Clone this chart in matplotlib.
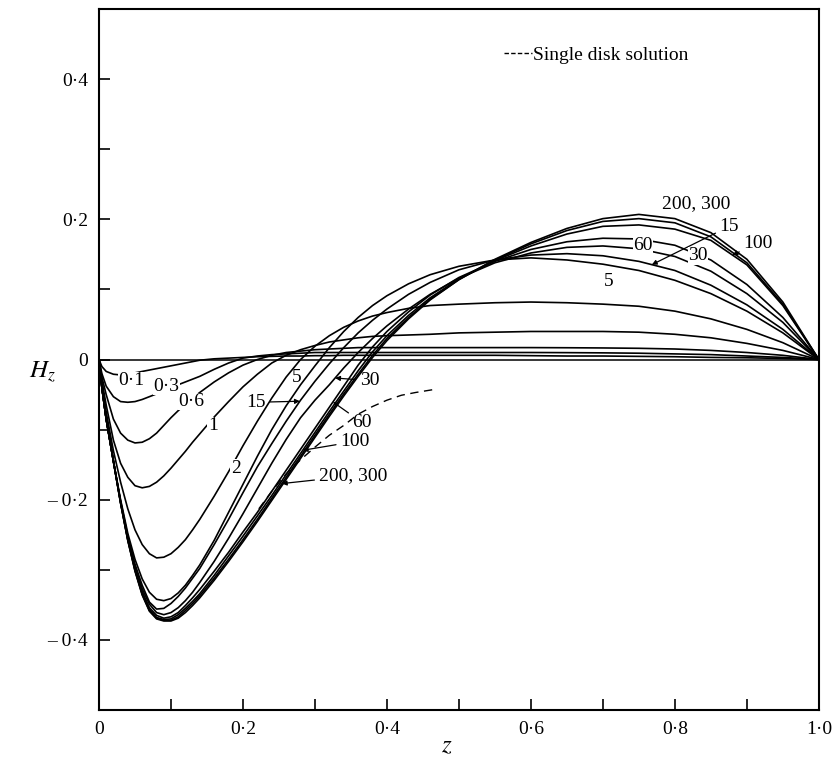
import numpy as np
import matplotlib
matplotlib.use("Agg")
import matplotlib.pyplot as plt
from matplotlib.lines import Line2D

plt.rcParams['font.family'] = ['Liberation Serif', 'DejaVu Serif']
plt.rcParams['mathtext.fontset'] = 'stix'

# z positions shared by all curves
z = [0, 0.004, 0.01, 0.02, 0.03, 0.04, 0.05, 0.06, 0.07, 0.08, 0.09, 0.10,
     0.11, 0.12, 0.13, 0.14, 0.16, 0.18, 0.20, 0.22, 0.24, 0.26, 0.28, 0.30,
     0.32, 0.34, 0.36, 0.38, 0.40, 0.43, 0.46, 0.50, 0.55, 0.60, 0.65, 0.70,
     0.75, 0.80, 0.85, 0.90, 0.95, 1.0]

h_01 = [0, -0.010, -0.017, -0.021, -0.022, -0.021, -0.019, -0.017, -0.015, -0.013, -0.011, -0.009,
        -0.007, -0.005, -0.003, -0.001, 0.001, 0.002, 0.003, 0.004, 0.0045, 0.005, 0.005, 0.0055,
        0.0055, 0.006, 0.006, 0.006, 0.006, 0.006, 0.006, 0.006, 0.006, 0.0055, 0.005, 0.005,
        0.0045, 0.004, 0.003, 0.0025, 0.0015, 0]
h_03 = [0, -0.020, -0.038, -0.053, -0.060, -0.061, -0.060, -0.057, -0.053, -0.049, -0.045, -0.040,
        -0.036, -0.032, -0.028, -0.024, -0.014, -0.005, 0.002, 0.005, 0.007, 0.008, 0.009, 0.010,
        0.010, 0.010, 0.010, 0.010, 0.010, 0.010, 0.010, 0.010, 0.010, 0.010, 0.0098, 0.0095,
        0.009, 0.008, 0.007, 0.005, 0.003, 0]
h_06 = [0, -0.025, -0.050, -0.085, -0.105, -0.115, -0.119, -0.118, -0.113, -0.105, -0.094, -0.083,
        -0.073, -0.064, -0.055, -0.047, -0.032, -0.019, -0.008, 0.000, 0.006, 0.010, 0.012, 0.014,
        0.015, 0.016, 0.017, 0.017, 0.017, 0.017, 0.017, 0.017, 0.017, 0.017, 0.0168, 0.0165,
        0.016, 0.015, 0.013, 0.010, 0.006, 0]
h_1 = [0, -0.030, -0.065, -0.115, -0.148, -0.168, -0.180, -0.183, -0.181, -0.175, -0.166, -0.155,
       -0.143, -0.131, -0.118, -0.106, -0.082, -0.060, -0.039, -0.021, -0.005, 0.006, 0.014, 0.020,
       0.025, 0.028, 0.031, 0.033, 0.034, 0.035, 0.036, 0.038, 0.039, 0.040, 0.040, 0.040,
       0.039, 0.036, 0.031, 0.023, 0.013, 0]
h_2 = [0, -0.035, -0.075, -0.130, -0.175, -0.213, -0.243, -0.264, -0.277, -0.283, -0.282, -0.277,
       -0.268, -0.257, -0.243, -0.228, -0.195, -0.160, -0.123, -0.088, -0.055, -0.025, 0.000, 0.019,
       0.034, 0.046, 0.055, 0.062, 0.067, 0.073, 0.077, 0.079, 0.081, 0.082, 0.081, 0.079,
       0.076, 0.069, 0.058, 0.043, 0.024, 0]
h_5 = [0, -0.040, -0.085, -0.145, -0.200, -0.248, -0.285, -0.313, -0.332, -0.342, -0.344, -0.341,
       -0.333, -0.322, -0.308, -0.293, -0.258, -0.218, -0.178, -0.138, -0.100, -0.066, -0.036, -0.009,
       0.017, 0.040, 0.060, 0.077, 0.091, 0.108, 0.121, 0.133, 0.142, 0.145, 0.142, 0.136,
       0.127, 0.113, 0.094, 0.069, 0.038, 0]
h_15 = [0, -0.040, -0.085, -0.145, -0.202, -0.252, -0.292, -0.322, -0.346, -0.356, -0.355, -0.348,
        -0.338, -0.326, -0.312, -0.298, -0.264, -0.228, -0.190, -0.153, -0.120, -0.088, -0.058, -0.031,
        -0.006, 0.017, 0.038, 0.056, 0.072, 0.093, 0.110, 0.128, 0.142, 0.149, 0.151, 0.148,
        0.140, 0.127, 0.106, 0.078, 0.043, 0]
h_30 = [0, -0.040, -0.085, -0.145, -0.203, -0.254, -0.295, -0.327, -0.349, -0.361, -0.364, -0.361,
        -0.354, -0.344, -0.332, -0.318, -0.288, -0.255, -0.220, -0.184, -0.148, -0.114, -0.083, -0.058,
        -0.036, -0.012, 0.010, 0.030, 0.048, 0.072, 0.093, 0.116, 0.138, 0.152, 0.160, 0.162,
        0.158, 0.147, 0.126, 0.094, 0.053, 0]
h_60 = [0, -0.040, -0.085, -0.145, -0.204, -0.256, -0.298, -0.331, -0.354, -0.365, -0.369, -0.367,
        -0.361, -0.351, -0.340, -0.328, -0.302, -0.275, -0.246, -0.218, -0.188, -0.158, -0.128, -0.098,
        -0.068, -0.038, -0.008, 0.018, 0.040, 0.068, 0.092, 0.117, 0.140, 0.157, 0.168, 0.173,
        0.172, 0.163, 0.142, 0.107, 0.060, 0]
h_100 = [0, -0.040, -0.085, -0.145, -0.204, -0.257, -0.300, -0.334, -0.357, -0.368, -0.371, -0.370,
         -0.364, -0.355, -0.345, -0.334, -0.308, -0.280, -0.252, -0.223, -0.194, -0.164, -0.134, -0.104,
         -0.074, -0.045, -0.016, 0.011, 0.034, 0.063, 0.088, 0.115, 0.141, 0.162, 0.179, 0.190,
         0.192, 0.186, 0.170, 0.135, 0.077, 0]
h_200 = [0, -0.040, -0.085, -0.145, -0.205, -0.258, -0.301, -0.335, -0.358, -0.369, -0.372, -0.372,
         -0.367, -0.358, -0.348, -0.337, -0.312, -0.285, -0.257, -0.228, -0.198, -0.168, -0.138, -0.108,
         -0.078, -0.049, -0.021, 0.006, 0.030, 0.060, 0.086, 0.114, 0.142, 0.165, 0.184, 0.197,
         0.201, 0.195, 0.175, 0.138, 0.079, 0]
h_300 = [0, -0.040, -0.085, -0.145, -0.205, -0.258, -0.302, -0.336, -0.359, -0.370, -0.373, -0.373,
         -0.369, -0.361, -0.351, -0.340, -0.315, -0.288, -0.260, -0.231, -0.201, -0.171, -0.141, -0.111,
         -0.081, -0.052, -0.024, 0.003, 0.027, 0.058, 0.085, 0.114, 0.143, 0.167, 0.187, 0.201,
         0.207, 0.201, 0.181, 0.143, 0.082, 0]

curves = {"0.1": h_01, "0.3": h_03, "0.6": h_06, "1": h_1, "2": h_2, "5": h_5,
          "15": h_15, "30": h_30, "60": h_60, "100": h_100, "200": h_200, "300": h_300}

# single disk solution (dashed)
z_disk = [0.222, 0.24, 0.26, 0.28, 0.30, 0.32, 0.34, 0.36, 0.38, 0.40, 0.42, 0.44, 0.47]
h_disk = [-0.213, -0.188, -0.163, -0.143, -0.125, -0.108, -0.094, -0.078, -0.067, -0.058,
          -0.051, -0.047, -0.042]


def dot(v):
    return v.replace('.', '\u00b7')


def main():
    fig = plt.figure(figsize=(8.39, 7.58), dpi=100)
    ax = fig.add_axes([0.118, 0.0633, 0.858, 0.9248])

    for name, h in curves.items():
        ax.plot(z, h, color="k", lw=1.2, solid_capstyle="round")
    ax.axhline(0, color="k", lw=1.1)
    ax.plot(z_disk, h_disk, color="k", lw=1.0, dashes=(6, 4))

    ax.set_xlim(0, 1.0)
    ax.set_ylim(-0.5, 0.5)
    ax.set_xticks([0, 0.2, 0.4, 0.6, 0.8, 1.0])
    ax.set_xticklabels(["0", "0·2", "0·4", "0·6", "0·8", "1·0"])
    ax.set_xticks([0.1, 0.3, 0.5, 0.7, 0.9], minor=True)
    ax.set_yticks([-0.4, -0.2, 0, 0.2, 0.4])
    ax.set_yticklabels(["\u2013 0·4", "\u2013 0·2", "0", "0·2", "0·4"])
    ax.set_yticks([-0.3, -0.1, 0.1, 0.3], minor=True)
    ax.tick_params(which="both", direction="in", length=8, width=1.2,
                   labelsize=14, pad=8, top=False, right=False)
    for s in ax.spines.values():
        s.set_linewidth(1.5)

    ax.text(-0.079, -0.018, "$H_z$", fontsize=18, ha="center", va="center", clip_on=False)
    ax.text(0.483, -0.552, "$z$", fontsize=18, ha="center", va="center", clip_on=False)

    key = Line2D([], [], color="k", lw=1.0, dashes=(3.2, 1.6), label="Single disk solution")
    ax.legend(handles=[key], loc="center left", bbox_to_anchor=(0.562, 0.934),
              frameon=False, fontsize=14, handlelength=1.45, handletextpad=0.05,
              borderpad=0, borderaxespad=0)

    # labels sitting on the curves
    wb = dict(facecolor="white", edgecolor="none", pad=0.3)
    on_curve = [("0.1", 0.045, -0.030), ("0.3", 0.094, -0.038), ("0.6", 0.128, -0.060),
                ("1", 0.158, -0.094), ("2", 0.190, -0.155)]
    for t, x, y in on_curve:
        ax.text(x, y, dot(t), fontsize=14, ha="center", va="center", bbox=wb, zorder=5)

    ax.text(0.275, -0.026, "5", fontsize=14, ha="center", va="center")
    ax.text(0.708, 0.112, "5", fontsize=14, ha="center", va="center")
    ax.text(0.756, 0.163, "60", fontsize=14, ha="center", va="center", bbox=wb, zorder=5)
    ax.text(0.832, 0.148, "30", fontsize=14, ha="center", va="center", bbox=wb, zorder=5)
    ax.text(0.83, 0.222, "200, 300", fontsize=14, ha="center", va="center")

    # labels with leader lines
    ap = dict(arrowstyle="-|>", color="k", lw=0.9, mutation_scale=7, shrinkA=1, shrinkB=0)
    leaders = [("15", h_15, 0.279, 0.232, -0.061, "right"),
               ("30", h_30, 0.328, 0.362, -0.030, "left"),
               ("60", h_60, 0.325, 0.352, -0.090, "left"),
               ("100", h_100, 0.283, 0.335, -0.117, "left"),
               ("200, 300", h_200, 0.254, 0.305, -0.166, "left"),
               ("15", h_15, 0.768, 0.862, 0.190, "left"),
               ("100", h_100, 0.880, 0.895, 0.166, "left")]
    for t, h, xt, tx, ty, ha in leaders:
        ax.annotate(t, xy=(xt, np.interp(xt, z, h)), xytext=(tx, ty), fontsize=14,
                    ha=ha, va="center", arrowprops=ap)

    fig.savefig("out.png", dpi=100)


if __name__ == "__main__":
    main()
